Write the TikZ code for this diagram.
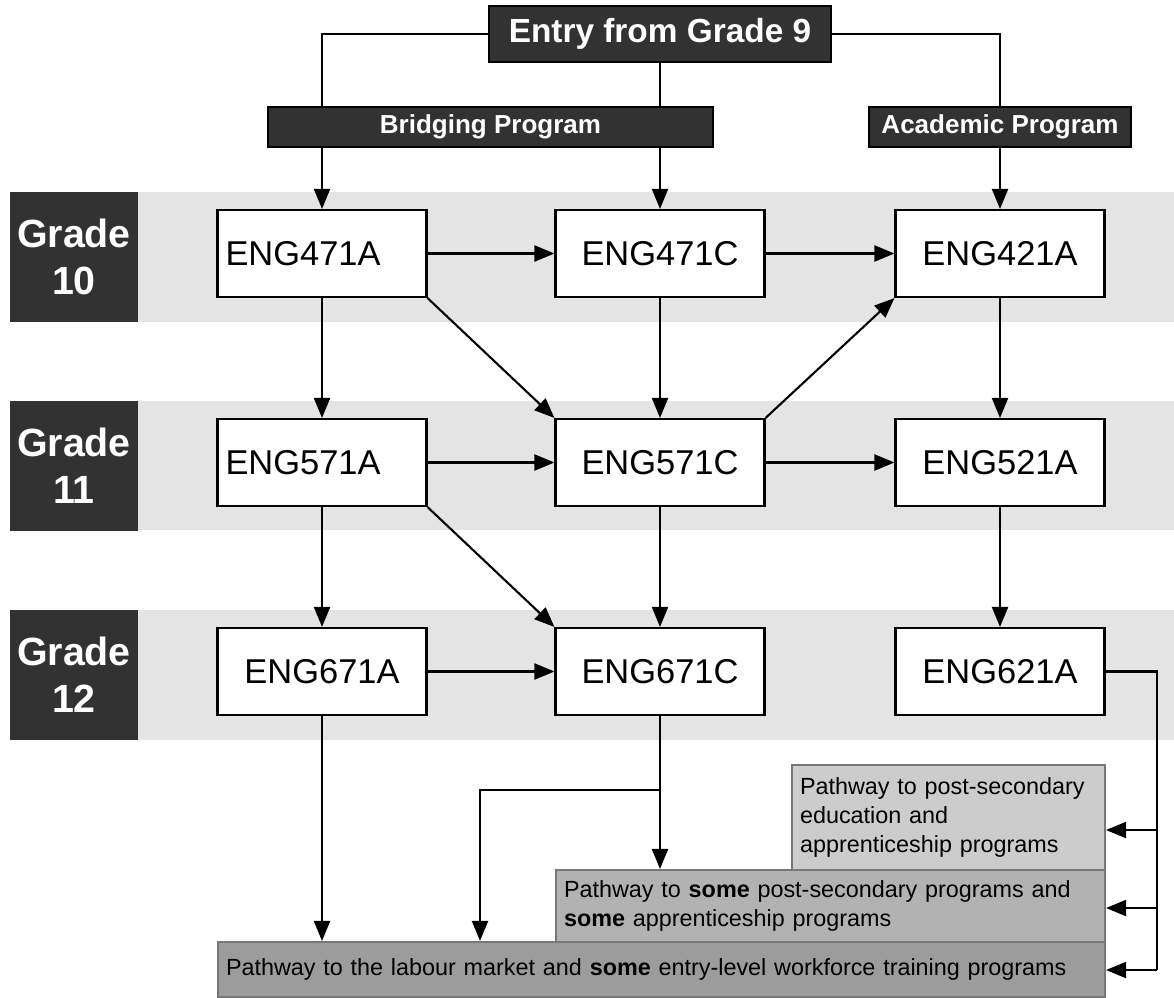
\documentclass[tikz,border=0pt]{standalone}
\usepackage{fontspec}
\setmainfont{Liberation Sans}
\usetikzlibrary{arrows.meta}
\definecolor{labelDark}{RGB}{50,50,50}
\definecolor{bandGray}{RGB}{228,228,228}
\definecolor{pathLight}{RGB}{204,204,204}
\definecolor{pathMid}{RGB}{178,178,178}
\definecolor{pathDark}{RGB}{156,156,156}
\definecolor{pathBorder}{RGB}{120,120,120}

\begin{document}
\begin{tikzpicture}
            \tikzstyle{header} = [draw=black, fill=labelDark, line width=1pt, text=white, font=\bfseries\fontsize{14.8}{17}\selectfont, minimum height=0.8cm]
            \tikzstyle{grade} = [fill=labelDark, text=white, font=\bfseries\fontsize{22.4}{26.5}\selectfont, minimum width=2.56cm, minimum height=2.6cm, align=center]
            \tikzstyle{course} = [draw=black, fill=white, line width=1.2pt, minimum width=4.18cm, minimum height=1.74cm, font=\fontsize{19.6}{23}\selectfont]
            \tikzstyle{pathway} = [draw=pathBorder, line width=1.2pt, align=left, inner xsep=0.16cm, font=\fontsize{13.3}{16.5}\selectfont]
            \tikzstyle{arrow} = [-{Triangle[length=0.4cm,width=0.32cm]}, line width=1.2pt]
            \tikzstyle{link} = [line width=1.2pt]

            \useasboundingbox (0,0) rectangle (23.48,-19.94);

            % Grade bands
            \fill[bandGray] (0.2,-3.84) rectangle (23.48,-6.44);
            \fill[bandGray] (0.2,-8.02) rectangle (23.48,-10.6);
            \fill[bandGray] (0.2,-12.2) rectangle (23.48,-14.8);
            \node[grade] (g10) at (1.48,-5.14) {Grade\\10};
            \node[grade] (g11) at (1.48,-9.31) {Grade\\11};
            \node[grade] (g12) at (1.48,-13.5) {Grade\\12};

            % Entry and programs
            \node[header, minimum width=6.84cm, minimum height=1.12cm, font=\bfseries\fontsize{19}{23}\selectfont] (entry) at (13.2,-0.68) {Entry from Grade 9};
            \node[header, minimum width=8.9cm] (bridge) at (9.81,-2.54) {Bridging Program};
            \node[header, minimum width=5.24cm] (academic) at (20,-2.54) {Academic Program};

            % Grade 10
            \node[course, text width=3.86cm, inner xsep=0.16cm, align=left] (a471) at (6.44,-5.07) {ENG471A};
            \node[course] (c471) at (13.2,-5.07) {ENG471C};
            \node[course] (a421) at (20,-5.07) {ENG421A};

            % Grade 11
            \node[course, text width=3.86cm, inner xsep=0.16cm, align=left] (a571) at (6.44,-9.25) {ENG571A};
            \node[course] (c571) at (13.2,-9.25) {ENG571C};
            \node[course] (a521) at (20,-9.25) {ENG521A};

            % Grade 12
            \node[course] (a671) at (6.44,-13.43) {ENG671A};
            \node[course] (c671) at (13.2,-13.43) {ENG671C};
            \node[course] (a621) at (20,-13.43) {ENG621A};

            % Pathways
            \node[pathway, fill=pathLight, minimum width=6.26cm, minimum height=2.1cm, text width=5.94cm] (p1) at (18.97,-16.35) {Pathway to post-secondary\\education and\\apprenticeship programs};
            \node[pathway, fill=pathMid, minimum width=10.98cm, minimum height=1.44cm, text width=10.66cm] (p2) at (16.61,-18.12) {Pathway to \textbf{some} post-secondary programs and\\\textbf{some} apprenticeship programs};
            \node[pathway, fill=pathDark, minimum width=17.74cm, minimum height=1.1cm, text width=17.42cm] (p3) at (13.23,-19.39) {Pathway to the labour market and \textbf{some} entry-level workforce training programs};

            \coordinate (split) at (13.2,-15.8);
            \coordinate (bend) at (9.6,-15.8);
            \coordinate (r1) at (23.14,-16.6);
            \coordinate (r2) at (23.14,-18.16);
            \coordinate (r3) at (23.14,-19.4);

            % Lines from entry
            \draw[link] (entry.west) -| (bridge.north -| a471);
            \draw[link] (entry.south) -- (bridge.north -| entry);
            \draw[link] (entry.east) -| (academic.north);
            \draw[arrow] (bridge.south -| a471) -- (a471.north);
            \draw[arrow] (bridge.south -| c471) -- (c471.north);
            \draw[arrow] (academic.south) -- (a421.north);

            % Arrows
            \draw[arrow] (a471) -- (c471);
            \draw[arrow] (c471) -- (a421);
            \draw[arrow] (a471) -- (a571);
            \draw[arrow] (c471) -- (c571);
            \draw[arrow] (a421) -- (a521);
            \draw[arrow] (a471.south east) -- (c571.north west);
            \draw[arrow] (c571.north east) -- (a421.south west);
            \draw[arrow] (a571) -- (c571);
            \draw[arrow] (c571) -- (a521);
            \draw[arrow] (a571) -- (a671);
            \draw[arrow] (c571) -- (c671);
            \draw[arrow] (a521) -- (a621);
            \draw[arrow] (a571.south east) -- (c671.north west);
            \draw[arrow] (a671) -- (c671);

            % To pathways
            \draw[arrow] (a671.south) -- (a671.south |- p3.north);
            \draw[link] (c671.south) -- (split);
            \draw[arrow] (split) -- (split |- p2.north);
            \draw[arrow] (split) -- (bend) -- (bend |- p3.north);
            \draw[link] (a621.east) -| (r3);
            \draw[arrow] (r1) -- (r1 -| p1.east);
            \draw[arrow] (r2) -- (r2 -| p2.east);
            \draw[arrow] (r3) -- (r3 -| p3.east);
        \end{tikzpicture}
\end{document}
